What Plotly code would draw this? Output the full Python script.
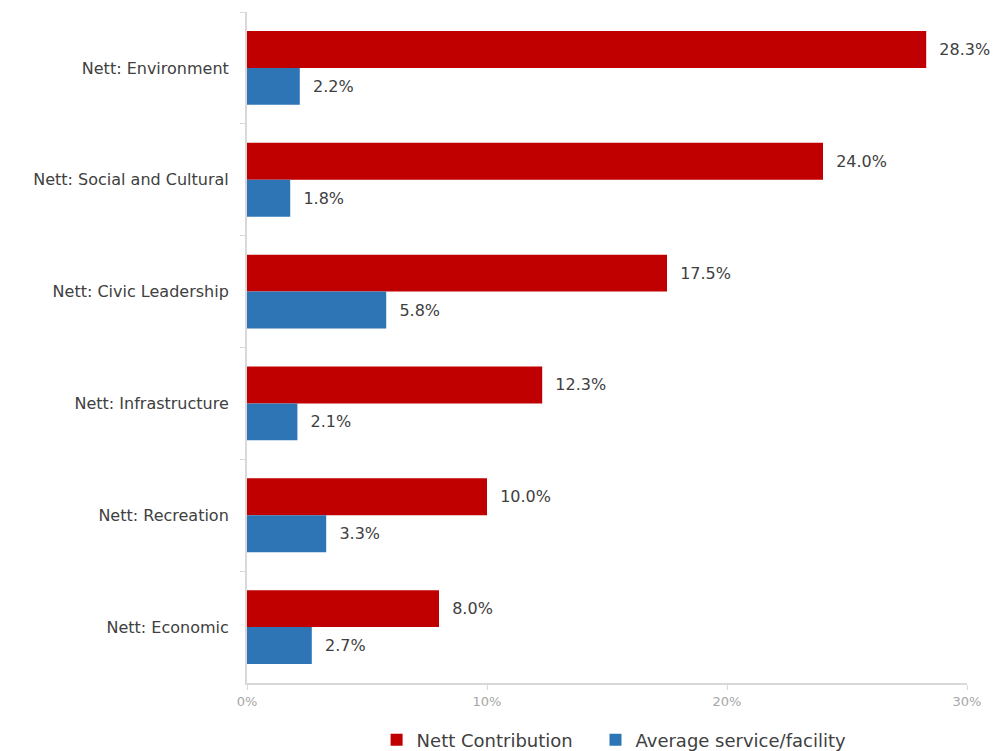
import plotly.graph_objects as go

categories = [
    "Nett: Environment",
    "Nett: Social and Cultural",
    "Nett: Civic Leadership",
    "Nett: Infrastructure",
    "Nett: Recreation",
    "Nett: Economic",
]
nett_contribution = [28.3, 24.0, 17.5, 12.3, 10.0, 8.0]
average_service = [2.2, 1.8, 5.8, 2.1, 3.3, 2.7]
x_ticks = [0, 10, 20, 30]

FONT = "DejaVu Sans"
TEXT_COLOR = "#404040"
AXIS_COLOR = "#d9d9d9"

fig = go.Figure()
fig.add_trace(go.Bar(
    name="Nett Contribution",
    y=categories,
    x=nett_contribution,
    orientation="h",
    marker=dict(color="#C00000", line=dict(width=0)),
    texttemplate="  %{x:.1f}%",
    textposition="outside",
    textfont=dict(family=FONT, size=16, color=TEXT_COLOR),
    cliponaxis=False,
    constraintext="none",
    showlegend=True,
    legend="legend",
))
fig.add_trace(go.Bar(
    name="Average service/facility",
    y=categories,
    x=average_service,
    orientation="h",
    marker=dict(color="#2E75B6", line=dict(width=0)),
    texttemplate="  %{x:.1f}%",
    textposition="outside",
    textfont=dict(family=FONT, size=16, color=TEXT_COLOR),
    cliponaxis=False,
    constraintext="none",
    showlegend=True,
    legend="legend2",
))

legend_style = dict(
    orientation="h",
    xanchor="left",
    y=-0.085,
    yanchor="middle",
    font=dict(family=FONT, size=18, color=TEXT_COLOR),
    itemwidth=30,
    bgcolor="rgba(0,0,0,0)",
)

fig.update_layout(
    width=993,
    height=751,
    showlegend=True,
    barmode="group",
    bargap=0.34,
    bargroupgap=0,
    plot_bgcolor="white",
    paper_bgcolor="white",
    margin=dict(l=247, r=26, t=12, b=68, autoexpand=False),
    font=dict(family=FONT, size=16, color=TEXT_COLOR),
    legend=dict(x=0.18, **legend_style),
    legend2=dict(x=0.484, **legend_style),
    xaxis=dict(
        range=[0, 30],
        tickvals=x_ticks,
        ticktext=[f"{v}%" for v in x_ticks],
        showgrid=False,
        zeroline=False,
        showline=True,
        linecolor=AXIS_COLOR,
        linewidth=2,
        ticks="outside",
        ticklen=5,
        tickcolor=AXIS_COLOR,
        tickfont=dict(family=FONT, size=13, color="#a6a6a6"),
    ),
    yaxis=dict(
        autorange="reversed",
        showgrid=False,
        zeroline=False,
        showline=True,
        linecolor=AXIS_COLOR,
        linewidth=2,
        ticks="outside",
        tickson="boundaries",
        ticklen=5,
        tickcolor=AXIS_COLOR,
        ticklabelstandoff=13,
        tickfont=dict(family=FONT, size=16, color=TEXT_COLOR),
    ),
)

fig.write_html("out.html")
